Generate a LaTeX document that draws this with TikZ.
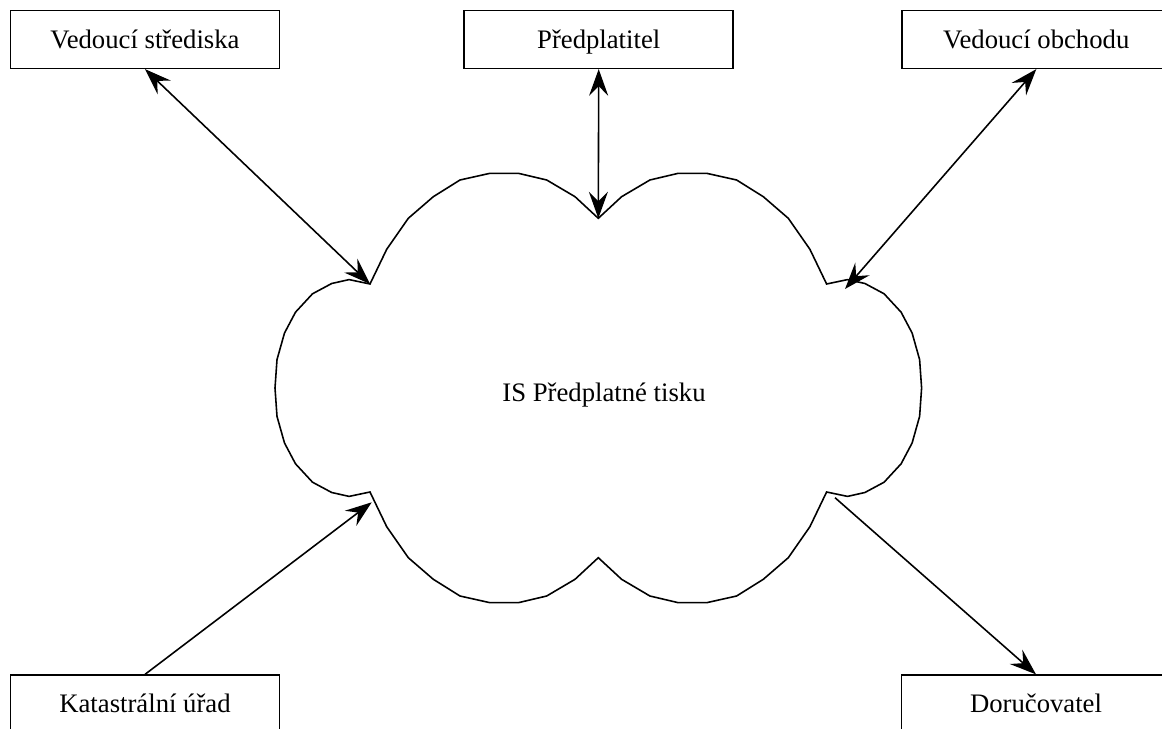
\documentclass[tikz,border=0pt]{standalone}
\usepackage{fontspec}
\setmainfont{Liberation Serif}
\usetikzlibrary{arrows.meta}
\tikzset{
  vtip/.tip={Stealth[length=0.53cm,width=0.38cm,inset=0.19cm]},
  actor/.style={draw,line width=0.9pt,minimum width=5.38cm,minimum height=1.154cm,inner sep=0pt,text height=0.352cm,text depth=0pt,font=\fontsize{15.2}{18}\selectfont},
  conn/.style={line width=0.9pt},
  cloudline/.style={line width=0.9pt,line join=miter},
  label/.style={font=\fontsize{15.2}{18}\selectfont,inner sep=0pt}
}
\begin{document}
\begin{tikzpicture}[x=0.02cm,y=-0.02cm]
\useasboundingbox (0,0) rectangle (1162,729);
\clip (0,0) rectangle (1162,729);
% actors
\node[actor] (vs) at (145,39.5) {Vedoucí střediska};
\node[actor] (p) at (598.7,39.5) {Předplatitel};
\node[actor] (vo) at (1036.3,39.5) {Vedoucí obchodu};
\node[actor] (k) at (145,704) {Katastrální úřad};
\node[actor] (d) at (1036,704) {Doručovatel};
% cloud
\begin{scope}[shift={(598.3,388)}]
\draw[cloudline] (0,-169.7) -- (23.3,-191.3) -- (51.6,-208) -- (80,-214.7) -- (108.3,-214.7) -- (138.3,-208) -- (165,-191.3) -- (190,-169.7) -- (211.6,-138.7) -- (228.3,-104)
 -- (249.2,-108.4) -- (266.6,-104.5) -- (285.8,-94.2) -- (302.8,-75.8) -- (313.8,-55) -- (321.3,-28.4) -- (323.3,0) -- (321.3,28.4) -- (313.8,55) -- (302.8,75.8) -- (285.8,94.2) -- (266.6,104.5) -- (249.2,108.4) -- (228.3,104)
 -- (211.6,138.7) -- (190,169.7) -- (165,191.3) -- (138.3,208) -- (108.3,214.7) -- (80,214.7) -- (51.6,208) -- (23.3,191.3) -- (0,169.7)
 -- (-23.3,191.3) -- (-51.6,208) -- (-80,214.7) -- (-108.3,214.7) -- (-138.3,208) -- (-165,191.3) -- (-190,169.7) -- (-211.6,138.7) -- (-228.3,104)
 -- (-249.2,108.4) -- (-266.6,104.5) -- (-285.8,94.2) -- (-302.8,75.8) -- (-313.8,55) -- (-321.3,28.4) -- (-323.3,0) -- (-321.3,-28.4) -- (-313.8,-55) -- (-302.8,-75.8) -- (-285.8,-94.2) -- (-266.6,-104.5) -- (-249.2,-108.4) -- (-228.3,-104)
 -- (-211.6,-138.7) -- (-190,-169.7) -- (-165,-191.3) -- (-138.3,-208) -- (-108.3,-214.7) -- (-80,-214.7) -- (-51.6,-208) -- (-23.3,-191.3) -- cycle;
\coordinate (ntop) at (0,-169.7);
\coordinate (ntl) at (-228.3,-104);
\coordinate (cvo) at (246.7,-99);
\coordinate (ck) at (-226.6,114.3);
\coordinate (cd) at (236.7,109.7);
\end{scope}
\node[label,anchor=base] (is) at (604,401.7) {IS Předplatné tisku};
% connectors
\draw[conn,vtip-vtip] (vs.south) -- (ntl);
\draw[conn,vtip-vtip] (p.south) -- (ntop);
\draw[conn,vtip-vtip] (vo.south) -- (cvo);
\draw[conn,-vtip] (k.north) -- (ck);
\draw[conn,-vtip] (cd) -- (d.north);
\end{tikzpicture}
\end{document}
